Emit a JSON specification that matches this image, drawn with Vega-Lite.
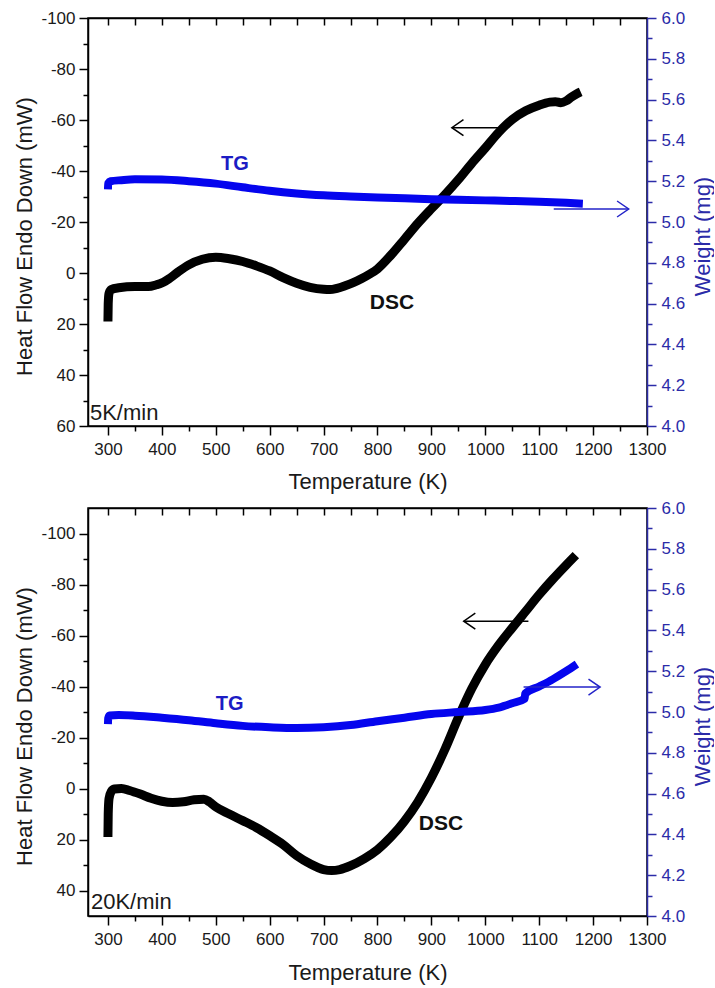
{
  "$schema": "https://vega.github.io/schema/vega-lite/v6.json",
  "background": "white",
  "padding": {"left": 12, "top": 8, "right": 0, "bottom": 0},
  "spacing": 4,
  "config": {
    "font": "Liberation Sans",
    "view": {"stroke": "#000000", "strokeWidth": 1.5},
    "axis": {
      "grid": false,
      "labelFont": "Liberation Sans",
      "titleFont": "Liberation Sans",
      "labelFontSize": 17,
      "titleFontSize": 22,
      "titleFontWeight": "normal",
      "labelColor": "#1a1a1a",
      "titleColor": "#1a1a1a",
      "domainColor": "#000000",
      "tickColor": "#000000",
      "domainWidth": 1.5,
      "tickWidth": 1.5,
      "labelFlush": false,
      "labelOverlap": false,
      "labelBound": false,
      "titleBaseline": "middle",
      "titleAlign": "center"
    }
  },
  "datasets": {
    "dsc5": [
      {"T": 300, "v": 19}, {"T": 300.5, "v": 12}, {"T": 302, "v": 8}, {"T": 306, "v": 6.5},
      {"T": 320, "v": 5.8}, {"T": 350, "v": 5.3}, {"T": 375, "v": 5.3}, {"T": 390, "v": 4.6},
      {"T": 400, "v": 3.9}, {"T": 415, "v": 2.0}, {"T": 430, "v": -0.4}, {"T": 450, "v": -3.2},
      {"T": 475, "v": -5.4}, {"T": 500, "v": -6.2}, {"T": 525, "v": -5.6}, {"T": 550, "v": -4.5},
      {"T": 575, "v": -2.8}, {"T": 600, "v": -0.8}, {"T": 625, "v": 1.8}, {"T": 650, "v": 4.0},
      {"T": 675, "v": 5.6}, {"T": 700, "v": 6.4}, {"T": 712, "v": 6.5}, {"T": 725, "v": 6.0},
      {"T": 740, "v": 5.0}, {"T": 755, "v": 3.8}, {"T": 770, "v": 2.3}, {"T": 785, "v": 0.5},
      {"T": 800, "v": -1.6}, {"T": 825, "v": -7}, {"T": 850, "v": -13.2}, {"T": 875, "v": -19.5},
      {"T": 900, "v": -25.2}, {"T": 925, "v": -30.7}, {"T": 950, "v": -36.6}, {"T": 975, "v": -43},
      {"T": 1000, "v": -49}, {"T": 1025, "v": -55.2}, {"T": 1050, "v": -60.2}, {"T": 1075, "v": -63.6},
      {"T": 1100, "v": -65.8}, {"T": 1120, "v": -67}, {"T": 1130, "v": -67.2}, {"T": 1140, "v": -66.8},
      {"T": 1150, "v": -67.5}, {"T": 1160, "v": -69}, {"T": 1170, "v": -70.3}, {"T": 1177, "v": -71}
    ],
    "tg5": [
      {"T": 300, "w": 5.16}, {"T": 300.5, "w": 5.19}, {"T": 305, "w": 5.2}, {"T": 325, "w": 5.205},
      {"T": 350, "w": 5.209}, {"T": 400, "w": 5.208}, {"T": 450, "w": 5.2}, {"T": 500, "w": 5.188},
      {"T": 550, "w": 5.17}, {"T": 600, "w": 5.153}, {"T": 650, "w": 5.14}, {"T": 700, "w": 5.131},
      {"T": 750, "w": 5.125}, {"T": 800, "w": 5.12}, {"T": 850, "w": 5.116}, {"T": 900, "w": 5.112},
      {"T": 950, "w": 5.109}, {"T": 1000, "w": 5.106}, {"T": 1050, "w": 5.103}, {"T": 1100, "w": 5.099},
      {"T": 1150, "w": 5.094}, {"T": 1181, "w": 5.09}
    ],
    "dsc20": [
      {"T": 300, "v": 19}, {"T": 300.5, "v": 10}, {"T": 302, "v": 4}, {"T": 306, "v": 1.2},
      {"T": 312, "v": 0.2}, {"T": 325, "v": 0}, {"T": 340, "v": 0.8}, {"T": 360, "v": 2.2},
      {"T": 380, "v": 3.8}, {"T": 400, "v": 5}, {"T": 420, "v": 5.5}, {"T": 440, "v": 5.2},
      {"T": 460, "v": 4.4}, {"T": 478, "v": 4.2}, {"T": 488, "v": 5.2}, {"T": 500, "v": 7.2},
      {"T": 525, "v": 10}, {"T": 550, "v": 12.6}, {"T": 575, "v": 15.3}, {"T": 600, "v": 18.5},
      {"T": 625, "v": 22}, {"T": 650, "v": 26.3}, {"T": 675, "v": 29.5}, {"T": 700, "v": 31.8},
      {"T": 715, "v": 32.2}, {"T": 730, "v": 31.8}, {"T": 750, "v": 30.3}, {"T": 775, "v": 27.6},
      {"T": 800, "v": 24}, {"T": 825, "v": 19}, {"T": 850, "v": 12.8}, {"T": 875, "v": 5.2},
      {"T": 900, "v": -4.2}, {"T": 925, "v": -15.3}, {"T": 950, "v": -27.8}, {"T": 975, "v": -39.2},
      {"T": 1000, "v": -48.6}, {"T": 1025, "v": -56.3}, {"T": 1050, "v": -63}, {"T": 1075, "v": -69.5},
      {"T": 1100, "v": -76}, {"T": 1125, "v": -82}, {"T": 1150, "v": -87.6}, {"T": 1168, "v": -91.5}
    ],
    "tg20": [
      {"T": 300, "w": 4.94}, {"T": 300.5, "w": 4.97}, {"T": 303, "w": 4.983}, {"T": 320, "w": 4.985},
      {"T": 350, "w": 4.982}, {"T": 400, "w": 4.972}, {"T": 450, "w": 4.96}, {"T": 500, "w": 4.945},
      {"T": 550, "w": 4.932}, {"T": 600, "w": 4.925}, {"T": 650, "w": 4.921}, {"T": 700, "w": 4.925},
      {"T": 750, "w": 4.936}, {"T": 800, "w": 4.955}, {"T": 850, "w": 4.972}, {"T": 900, "w": 4.99},
      {"T": 950, "w": 5.0}, {"T": 1000, "w": 5.01}, {"T": 1025, "w": 5.022}, {"T": 1050, "w": 5.043},
      {"T": 1073, "w": 5.065}, {"T": 1074, "w": 5.09}, {"T": 1100, "w": 5.125}, {"T": 1125, "w": 5.16},
      {"T": 1150, "w": 5.2}, {"T": 1170, "w": 5.235}
    ],
    "notes5": [
      {"T": 535.6, "v": -42.6, "label": "TG", "kind": "tg"},
      {"T": 826.9, "v": 11.8, "label": "DSC", "kind": "dsc"},
      {"T": 266.6, "v": 54.9, "label": "5K/min", "kind": "rate"}
    ],
    "notes20": [
      {"T": 525.8, "v": -33.3, "label": "TG", "kind": "tg"},
      {"T": 917.8, "v": 14.0, "label": "DSC", "kind": "dsc"},
      {"T": 268.5, "v": 44.5, "label": "20K/min", "kind": "rate"}
    ],
    "arrows5": [
      {"x1": 938, "x2": 1026, "v": -57, "series": "DSC"},
      {"x1": 1127, "x2": 1266, "v": -25.1, "series": "TG"}
    ],
    "arrows20": [
      {"x1": 960, "x2": 1080, "v": -65.6, "series": "DSC"},
      {"x1": 1071, "x2": 1213, "v": -39.8, "series": "TG"}
    ]
  },
  "vconcat": [
    {
      "width": 559,
      "height": 408,
      "resolve": {"scale": {"y": "independent"}, "axis": {"x": "independent", "y": "independent"}},
      "layer": [
        {
          "data": {"name": "dsc5"},
          "mark": {"type": "line", "color": "#000000", "strokeWidth": 9, "strokeJoin": "round", "interpolate": "monotone"},
          "encoding": {
            "x": {
              "field": "T", "type": "quantitative",
              "scale": {"domain": [263, 1300], "nice": false, "zero": false},
              "axis": {
                "orient": "bottom", "title": "Temperature (K)",
                "values": [300, 350, 400, 450, 500, 550, 600, 650, 700, 750, 800, 850, 900, 950, 1000, 1050, 1100, 1150, 1200, 1250, 1300],
                "labelExpr": "datum.value % 100 === 0 ? '' + datum.value : ''",
                "tickSize": {"expr": "datum.value % 100 === 0 ? 9 : 5"},
                "labelPadding": 6, "titleY": 55.5
              }
            },
            "y": {
              "field": "v", "type": "quantitative",
              "scale": {"domain": [-100, 60], "reverse": true, "nice": false, "zero": false},
              "axis": {
                "orient": "left", "title": "Heat Flow Endo Down (mW)",
                "values": [-100, -90, -80, -70, -60, -50, -40, -30, -20, -10, 0, 10, 20, 30, 40, 50, 60],
                "labelExpr": "datum.value % 20 === 0 ? '' + datum.value : ''",
                "tickSize": {"expr": "datum.value % 20 === 0 ? 9 : 5"},
                "labelPadding": 4, "titleX": -64, "titleY": 218, "titleAngle": 270
              }
            }
          }
        },
        {
          "data": {"name": "tg5"},
          "mark": {"type": "line", "color": "#0505ee", "strokeWidth": 8, "strokeJoin": "round", "interpolate": "monotone"},
          "encoding": {
            "x": {
              "field": "T", "type": "quantitative",
              "scale": {"domain": [263, 1300], "nice": false, "zero": false},
              "axis": {
                "orient": "top", "title": null, "labels": false,
                "values": [300, 350, 400, 450, 500, 550, 600, 650, 700, 750, 800, 850, 900, 950, 1000, 1050, 1100, 1150, 1200, 1250],
                "tickSize": -7
              }
            },
            "y": {
              "field": "w", "type": "quantitative",
              "scale": {"domain": [4, 6], "nice": false, "zero": false},
              "axis": {
                "orient": "right", "title": "Weight (mg)",
                "values": [4, 4.1, 4.2, 4.3, 4.4, 4.5, 4.6, 4.7, 4.8, 4.9, 5, 5.1, 5.2, 5.3, 5.4, 5.5, 5.6, 5.7, 5.8, 5.9, 6],
                "labelExpr": "round(datum.value * 10) % 2 === 0 ? format(datum.value, '.1f') : ''",
                "tickSize": {"expr": "round(datum.value * 10) % 2 === 0 ? 9 : 5"},
                "labelPadding": 5, "titleX": 55, "titleY": 218, "titleAngle": 270,
                "domainColor": "#2b2ba8", "tickColor": "#2b2ba8", "labelColor": "#2b2ba8", "titleColor": "#2b2ba8"
              }
            }
          }
        },
        {
          "data": {"name": "notes5"},
          "transform": [{"filter": "datum.kind === 'tg'"}],
          "mark": {"type": "text", "fontSize": 20, "fontWeight": "bold", "color": "#1c1cc4", "align": "center", "baseline": "middle"},
          "encoding": {
            "x": {"field": "T", "type": "quantitative", "scale": {"domain": [263, 1300], "nice": false, "zero": false}, "axis": null},
            "y": {"field": "v", "type": "quantitative", "scale": {"domain": [-100, 60], "reverse": true, "nice": false, "zero": false}, "axis": null},
            "text": {"field": "label"}
          }
        },
        {
          "data": {"name": "notes5"},
          "transform": [{"filter": "datum.kind === 'dsc'"}],
          "mark": {"type": "text", "fontSize": 21, "fontWeight": "bold", "color": "#111111", "align": "center", "baseline": "middle"},
          "encoding": {
            "x": {"field": "T", "type": "quantitative", "scale": {"domain": [263, 1300], "nice": false, "zero": false}, "axis": null},
            "y": {"field": "v", "type": "quantitative", "scale": {"domain": [-100, 60], "reverse": true, "nice": false, "zero": false}, "axis": null},
            "text": {"field": "label"}
          }
        },
        {
          "data": {"name": "notes5"},
          "transform": [{"filter": "datum.kind === 'rate'"}],
          "mark": {"type": "text", "fontSize": 22, "color": "#1a1a1a", "align": "left", "baseline": "middle"},
          "encoding": {
            "x": {"field": "T", "type": "quantitative", "scale": {"domain": [263, 1300], "nice": false, "zero": false}, "axis": null},
            "y": {"field": "v", "type": "quantitative", "scale": {"domain": [-100, 60], "reverse": true, "nice": false, "zero": false}, "axis": null},
            "text": {"field": "label"}
          }
        },
        {
          "data": {"name": "arrows5"},
          "mark": {"type": "rule", "strokeWidth": 1.5},
          "encoding": {
            "x": {"field": "x1", "type": "quantitative", "scale": {"domain": [263, 1300], "nice": false, "zero": false}, "axis": null},
            "x2": {"field": "x2"},
            "y": {"field": "v", "type": "quantitative", "scale": {"domain": [-100, 60], "reverse": true, "nice": false, "zero": false}, "axis": null},
            "color": {"field": "series", "type": "nominal", "scale": {"domain": ["DSC", "TG"], "range": ["#000000", "#2323c8"]}, "legend": null}
          }
        },
        {
          "data": {"name": "arrows5"},
          "transform": [{"filter": "datum.series === 'DSC'"}],
          "mark": {"type": "point", "shape": "M1.45,-1L0,0L1.45,1", "filled": false, "size": 256, "strokeWidth": 1.5, "color": "#000000", "opacity": 1},
          "encoding": {
            "x": {"field": "x1", "type": "quantitative", "scale": {"domain": [263, 1300], "nice": false, "zero": false}, "axis": null},
            "y": {"field": "v", "type": "quantitative", "scale": {"domain": [-100, 60], "reverse": true, "nice": false, "zero": false}, "axis": null}
          }
        },
        {
          "data": {"name": "arrows5"},
          "transform": [{"filter": "datum.series === 'TG'"}],
          "mark": {"type": "point", "shape": "M-1.45,-1L0,0L-1.45,1", "filled": false, "size": 256, "strokeWidth": 1.5, "color": "#2323c8", "opacity": 1},
          "encoding": {
            "x": {"field": "x2", "type": "quantitative", "scale": {"domain": [263, 1300], "nice": false, "zero": false}, "axis": null},
            "y": {"field": "v", "type": "quantitative", "scale": {"domain": [-100, 60], "reverse": true, "nice": false, "zero": false}, "axis": null}
          }
        }
      ]
    },
    {
      "width": 559,
      "height": 408,
      "resolve": {"scale": {"y": "independent"}, "axis": {"x": "independent", "y": "independent"}},
      "layer": [
        {
          "data": {"name": "dsc20"},
          "mark": {"type": "line", "color": "#000000", "strokeWidth": 9, "strokeJoin": "round", "interpolate": "monotone"},
          "encoding": {
            "x": {
              "field": "T", "type": "quantitative",
              "scale": {"domain": [263, 1300], "nice": false, "zero": false},
              "axis": {
                "orient": "bottom", "title": "Temperature (K)",
                "values": [300, 350, 400, 450, 500, 550, 600, 650, 700, 750, 800, 850, 900, 950, 1000, 1050, 1100, 1150, 1200, 1250, 1300],
                "labelExpr": "datum.value % 100 === 0 ? '' + datum.value : ''",
                "tickSize": {"expr": "datum.value % 100 === 0 ? 9 : 5"},
                "labelPadding": 6, "titleY": 56.5
              }
            },
            "y": {
              "field": "v", "type": "quantitative",
              "scale": {"domain": [-110, 50], "reverse": true, "nice": false, "zero": false},
              "axis": {
                "orient": "left", "title": "Heat Flow Endo Down (mW)",
                "values": [-100, -90, -80, -70, -60, -50, -40, -30, -20, -10, 0, 10, 20, 30, 40],
                "labelExpr": "datum.value % 20 === 0 ? '' + datum.value : ''",
                "tickSize": {"expr": "datum.value % 20 === 0 ? 9 : 5"},
                "labelPadding": 4, "titleX": -64, "titleY": 218, "titleAngle": 270
              }
            }
          }
        },
        {
          "data": {"name": "tg20"},
          "mark": {"type": "line", "color": "#0505ee", "strokeWidth": 8, "strokeJoin": "round", "interpolate": "monotone"},
          "encoding": {
            "x": {
              "field": "T", "type": "quantitative",
              "scale": {"domain": [263, 1300], "nice": false, "zero": false},
              "axis": {
                "orient": "top", "title": null, "labels": false,
                "values": [300, 350, 400, 450, 500, 550, 600, 650, 700, 750, 800, 850, 900, 950, 1000, 1050, 1100, 1150, 1200, 1250],
                "tickSize": -7
              }
            },
            "y": {
              "field": "w", "type": "quantitative",
              "scale": {"domain": [4, 6], "nice": false, "zero": false},
              "axis": {
                "orient": "right", "title": "Weight (mg)",
                "values": [4, 4.1, 4.2, 4.3, 4.4, 4.5, 4.6, 4.7, 4.8, 4.9, 5, 5.1, 5.2, 5.3, 5.4, 5.5, 5.6, 5.7, 5.8, 5.9, 6],
                "labelExpr": "round(datum.value * 10) % 2 === 0 ? format(datum.value, '.1f') : ''",
                "tickSize": {"expr": "round(datum.value * 10) % 2 === 0 ? 9 : 5"},
                "labelPadding": 5, "titleX": 55, "titleY": 218, "titleAngle": 270,
                "domainColor": "#2b2ba8", "tickColor": "#2b2ba8", "labelColor": "#2b2ba8", "titleColor": "#2b2ba8"
              }
            }
          }
        },
        {
          "data": {"name": "notes20"},
          "transform": [{"filter": "datum.kind === 'tg'"}],
          "mark": {"type": "text", "fontSize": 20, "fontWeight": "bold", "color": "#1c1cc4", "align": "center", "baseline": "middle"},
          "encoding": {
            "x": {"field": "T", "type": "quantitative", "scale": {"domain": [263, 1300], "nice": false, "zero": false}, "axis": null},
            "y": {"field": "v", "type": "quantitative", "scale": {"domain": [-110, 50], "reverse": true, "nice": false, "zero": false}, "axis": null},
            "text": {"field": "label"}
          }
        },
        {
          "data": {"name": "notes20"},
          "transform": [{"filter": "datum.kind === 'dsc'"}],
          "mark": {"type": "text", "fontSize": 21, "fontWeight": "bold", "color": "#111111", "align": "center", "baseline": "middle"},
          "encoding": {
            "x": {"field": "T", "type": "quantitative", "scale": {"domain": [263, 1300], "nice": false, "zero": false}, "axis": null},
            "y": {"field": "v", "type": "quantitative", "scale": {"domain": [-110, 50], "reverse": true, "nice": false, "zero": false}, "axis": null},
            "text": {"field": "label"}
          }
        },
        {
          "data": {"name": "notes20"},
          "transform": [{"filter": "datum.kind === 'rate'"}],
          "mark": {"type": "text", "fontSize": 22, "color": "#1a1a1a", "align": "left", "baseline": "middle"},
          "encoding": {
            "x": {"field": "T", "type": "quantitative", "scale": {"domain": [263, 1300], "nice": false, "zero": false}, "axis": null},
            "y": {"field": "v", "type": "quantitative", "scale": {"domain": [-110, 50], "reverse": true, "nice": false, "zero": false}, "axis": null},
            "text": {"field": "label"}
          }
        },
        {
          "data": {"name": "arrows20"},
          "mark": {"type": "rule", "strokeWidth": 1.5},
          "encoding": {
            "x": {"field": "x1", "type": "quantitative", "scale": {"domain": [263, 1300], "nice": false, "zero": false}, "axis": null},
            "x2": {"field": "x2"},
            "y": {"field": "v", "type": "quantitative", "scale": {"domain": [-110, 50], "reverse": true, "nice": false, "zero": false}, "axis": null},
            "color": {"field": "series", "type": "nominal", "scale": {"domain": ["DSC", "TG"], "range": ["#000000", "#2323c8"]}, "legend": null}
          }
        },
        {
          "data": {"name": "arrows20"},
          "transform": [{"filter": "datum.series === 'DSC'"}],
          "mark": {"type": "point", "shape": "M1.45,-1L0,0L1.45,1", "filled": false, "size": 256, "strokeWidth": 1.5, "color": "#000000", "opacity": 1},
          "encoding": {
            "x": {"field": "x1", "type": "quantitative", "scale": {"domain": [263, 1300], "nice": false, "zero": false}, "axis": null},
            "y": {"field": "v", "type": "quantitative", "scale": {"domain": [-110, 50], "reverse": true, "nice": false, "zero": false}, "axis": null}
          }
        },
        {
          "data": {"name": "arrows20"},
          "transform": [{"filter": "datum.series === 'TG'"}],
          "mark": {"type": "point", "shape": "M-1.45,-1L0,0L-1.45,1", "filled": false, "size": 256, "strokeWidth": 1.5, "color": "#2323c8", "opacity": 1},
          "encoding": {
            "x": {"field": "x2", "type": "quantitative", "scale": {"domain": [263, 1300], "nice": false, "zero": false}, "axis": null},
            "y": {"field": "v", "type": "quantitative", "scale": {"domain": [-110, 50], "reverse": true, "nice": false, "zero": false}, "axis": null}
          }
        }
      ]
    }
  ]
}
